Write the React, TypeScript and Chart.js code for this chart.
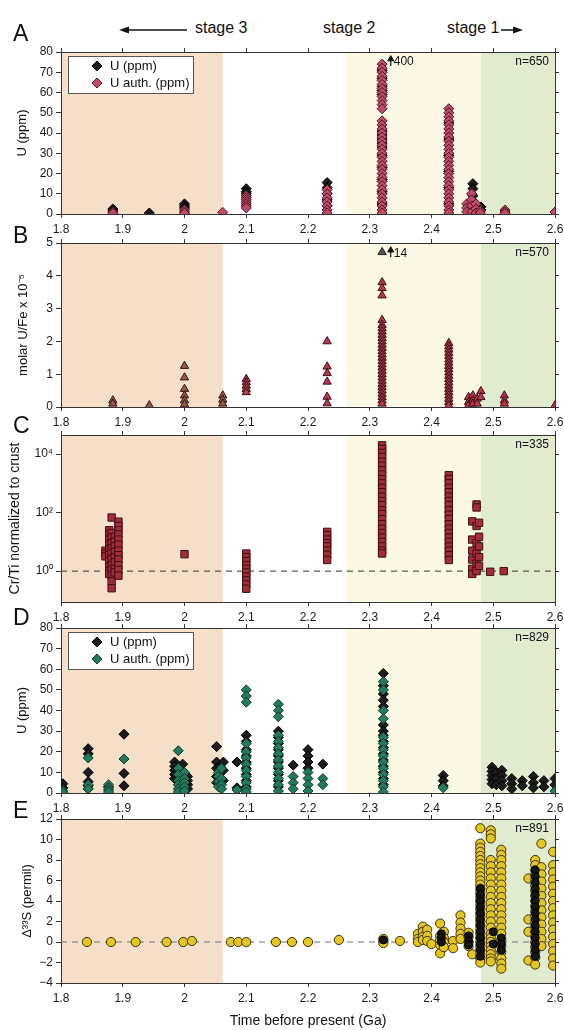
import React, { useEffect, useRef } from 'react';
import { Chart, registerables } from 'chart.js';

Chart.register(...registerables);

type Col = [number, number[]];
type Band = { from: number; to: number; color: string };
type Note = [number, number, string];

const FONT = "'Liberation Sans', Arial, Helvetica, sans-serif";
Chart.defaults.font.family = FONT;

// ---------------- shared x axis (Ga) ----------------
const X_MIN = 1.8;
const X_MAX = 2.6;
const X_STEP = 0.1;

// stage shading limits (Ga)
const STAGE3 = [1.8, 2.062];
const STAGE2 = [2.262, 2.48];
const STAGE1 = [2.48, 2.6];

// ---------------- Panel A : U (ppm) ----------------
const A_U_PPM: Col[] = [
  [1.884, [2.5, 1.5]],
  [1.943, [0.5]],
  [2.0, [5, 4, 3]],
  [2.1, [12.5, 11, 10]],
  [2.231, [15.5, 13, 10, 7, 4]],
  [2.32, [71, 67, 63, 61, 59, 41, 39, 37, 35, 33, 29, 23, 17, 11, 5]],
  [2.428, [45, 37, 29, 21, 13, 5]],
  [2.467, [15, 12.5, 9]],
  [2.48, [3.5, 2]],
];
const A_U_AUTH: Col[] = [
  [1.884, [1, 0.3]],
  [2.0, [2, 1, 0.3]],
  [2.062, [0.8]],
  [2.1, [9, 8, 7, 6, 5, 4, 3]],
  [2.231, [12, 10, 8, 6, 4, 2, 0.5]],
  [2.32, [74, 72, 70, 68, 66, 64, 62, 60, 58, 56, 54, 52, 46, 44, 42, 40, 38, 36, 34, 32, 30, 28, 26, 24, 22, 20, 18, 16, 14, 12, 10, 8, 6, 4, 2, 0.5]],
  [2.428, [52, 50, 48, 46, 44, 42, 40, 38, 36, 34, 32, 30, 28, 26, 24, 22, 20, 18, 16, 14, 12, 10, 8, 6, 4, 2, 0.5]],
  [2.457, [5, 3, 1]],
  [2.465, [10, 7, 4, 1]],
  [2.472, [5, 2.5, 0.5]],
  [2.479, [1.5, 0.5]],
  [2.519, [2, 1, 0.3]],
  [2.6, [1]],
];
const A_OFFSCALE: Note[] = [[2.334, 76.5, '400']];

// ---------------- Panel B : molar U/Fe ----------------
const B_U_FE: Col[] = [
  [1.884, [0.2, 0.1]],
  [1.943, [0.05]],
  [2.0, [1.25, 0.9, 0.55, 0.35, 0.2, 0.08]],
  [2.062, [0.35, 0.22, 0.1]],
  [2.1, [0.85, 0.75, 0.65, 0.55, 0.45]],
  [2.231, [2.0, 1.23, 1.03, 0.77, 0.31, 0.11]],
  [2.32, [3.8, 3.62, 3.4, 2.65, 2.5, 2.4, 2.3, 2.2, 2.1, 2.0, 1.9, 1.8, 1.7, 1.6, 1.5, 1.4, 1.3, 1.2, 1.1, 1.0, 0.9, 0.8, 0.7, 0.6, 0.5, 0.4, 0.3, 0.2, 0.1]],
  [2.428, [1.95, 1.85, 1.75, 1.65, 1.55, 1.45, 1.35, 1.25, 1.15, 1.05, 0.95, 0.85, 0.75, 0.65, 0.55, 0.45, 0.35, 0.25, 0.15, 0.05]],
  [2.46, [0.3, 0.15, 0.05]],
  [2.467, [0.35, 0.2, 0.1]],
  [2.474, [0.25, 0.1]],
  [2.48, [0.48, 0.3]],
  [2.518, [0.35, 0.2, 0.1]],
  [2.6, [0.05]],
];
const B_OFFSCALE_GRAY: Col[] = [[2.32, [4.72]]];
const B_OFFSCALE: Note[] = [[2.334, 4.78, '14']];

// ---------------- Panel C : Cr/Ti normalized to crust ----------------
const C_CR_TI: Col[] = [
  [1.872, [5, 4, 3.2]],
  [1.878, [25, 18, 12, 8, 5.5, 3.5, 2.2, 1.4, 1, 0.8]],
  [1.882, [68, 20, 14, 9, 6, 4, 2.6, 1.6, 1.1, 0.7, 0.45, 0.26]],
  [1.887, [15, 10, 7, 4.5, 3, 2, 1.2, 0.9]],
  [1.893, [49, 35, 25, 18, 12, 8, 5, 3.5, 2.5, 1.6, 1.1, 0.7]],
  [2.0, [3.8]],
  [2.1, [4, 3, 2.2, 1.6, 1.2, 0.9, 0.65, 0.48, 0.35, 0.25]],
  [2.231, [22, 17, 12, 9, 7, 5, 3.6, 2.4]],
  [2.32, [20000, 15000, 11000, 8000, 5500, 4000, 2800, 2000, 1400, 1000, 700, 500, 350, 250, 180, 120, 90, 60, 40, 28, 20, 14, 10, 7, 5, 4]],
  [2.428, [1900, 1400, 1000, 700, 500, 350, 250, 180, 120, 85, 60, 40, 28, 20, 14, 10, 7, 5, 3.5, 2.4]],
  [2.466, [50, 12, 5, 2.5, 1.2, 0.8]],
  [2.473, [190, 150, 35, 9, 4, 1.8, 1]],
  [2.477, [45, 15, 7, 3, 1.5]],
  [2.495, [0.95]],
  [2.517, [1.0]],
];
const C_REF = 1;
const C_TICKS = [1, 100, 10000];
const C_TICK_LABELS = ['10\u2070', '10\u00B2', '10\u2074'];

// ---------------- Panel D : U (ppm) ----------------
const D_U_PPM: Col[] = [
  [1.803, [4.5, 2.5]],
  [1.844, [21.5, 19, 10, 5.5, 3.5, 2]],
  [1.877, [3]],
  [1.902, [28.5, 9.5, 3.5]],
  [1.984, [15, 13, 11, 9, 7]],
  [1.991, [12, 10, 8, 6, 4]],
  [1.997, [14, 10, 7, 5]],
  [2.005, [8, 6, 4, 2]],
  [2.052, [22.5, 15, 12, 8, 5]],
  [2.058, [13, 10, 7, 4]],
  [2.063, [15, 11, 6]],
  [2.085, [15, 2.5]],
  [2.1, [28, 25, 21, 18, 15, 12, 9, 6, 3]],
  [2.152, [30, 27, 24, 21, 18, 15, 12, 9, 6, 3]],
  [2.176, [13.5]],
  [2.2, [21, 18, 15, 12]],
  [2.224, [14]],
  [2.322, [58, 52, 48, 45, 42, 33, 30, 28, 25, 22, 19, 16, 13, 10, 7, 4]],
  [2.419, [8.5, 6, 3.5]],
  [2.498, [12.5, 10.5, 8.5, 6.5, 4.5]],
  [2.505, [10, 7, 4]],
  [2.514, [11, 8.5, 6, 3.5]],
  [2.53, [7, 4.5, 2]],
  [2.547, [6, 3.5]],
  [2.565, [8, 5, 2.5]],
  [2.582, [6, 3]],
  [2.6, [7, 4]],
];
const D_U_AUTH: Col[] = [
  [1.803, [1, 0.3]],
  [1.844, [17, 4, 2]],
  [1.877, [4, 2.5, 1.5, 0.5]],
  [1.902, [16.5]],
  [1.99, [20.5, 12, 9, 6, 4, 2, 0.5]],
  [2.0, [10, 7, 5, 3, 1]],
  [2.055, [10, 8, 5.5, 3]],
  [2.06, [12, 7, 4, 2]],
  [2.085, [1.5]],
  [2.1, [50, 47, 44, 24, 20, 17, 14, 11, 8, 5, 2, 0.5]],
  [2.152, [43, 40, 37, 28, 25, 22, 19, 16, 13, 10, 7, 4, 1]],
  [2.176, [8, 5, 2]],
  [2.2, [10, 7, 4, 1]],
  [2.224, [7, 4]],
  [2.322, [54, 50, 40, 36, 27, 24, 21, 18, 15, 12, 9, 6, 3, 0.5]],
  [2.419, [2.5]],
  [2.6, [1]],
];

// ---------------- Panel E : Δ33S (permil) ----------------
const E_D33S: Col[] = [
  [1.842, [0]], [1.881, [0]], [1.921, [0]], [1.971, [0]], [1.998, [0]], [2.012, [0.1]],
  [2.075, [0]], [2.087, [0]], [2.1, [0]], [2.148, [0]], [2.174, [0]], [2.2, [0]], [2.25, [0.2]],
  [2.322, [0.3, 0.1, -0.1]], [2.349, [0.1]],
  [2.378, [0.8, 0.3, 0]], [2.386, [1.5, 1, 0.5, 0.2]], [2.393, [1.2, 0.6, 0.1]],
  [2.4, [-0.2]],
  [2.414, [1.8, 0.6, 0.2, -0.3, -1.1]], [2.42, [1, 0.4, 0, -0.5]],
  [2.435, [0.1, -0.6]],
  [2.447, [2.6, 1.9, 1.3, 0.8, 0.3]],
  [2.46, [0.9, 0.5, 0, -0.4]], [2.466, [-1.2]],
  [2.479, [11.1, 9.6, 9.2, 8.8, 8.4, 8.0, 7.6, 7.2, 6.8, 6.4, 6.0, 5.6, 5.2, 4.8, 4.4, 4.0, 3.6, 3.2, 2.8, 2.4, 2.0, 1.6, 1.2, 0.8, 0.4, 0, -0.4, -0.8, -1.2, -1.6, -2.0]],
  [2.496, [10.9, 10.5, 10.1, 8.0, 7.4, 6.8, 6.2, 5.6, 5.0, 4.4, 3.8, 3.2, 2.6, 2.0, 1.4, 0.8, 0.4, 0, -0.4, -0.8, -1.2, -1.6, -1.9]],
  [2.513, [9.0, 8.5, 8.0, 7.4, 6.8, 6.2, 5.6, 5.0, 4.4, 3.8, 3.2, 2.6, 2.0, 1.4, 0.8, 0.2, -0.4, -1.0, -1.6, -2.1, -2.6]],
  [2.557, [6.2, 2.2, 1.0, -1.8]],
  [2.568, [8.0, 7.5, 7.0, 6.5, 6.0, 5.5, 5.0, 4.5, 4.0, 3.5, 3.0, 2.5, 2.0, 1.5, 1.0, 0.5, 0, -0.5, -1.0, -1.5, -2.2]],
  [2.578, [9.6, 7.3, 6.6, 5.9, 5.2, 4.5, 3.8, 3.1, 2.4, 1.7, 1.0, 0.3, -0.4]],
  [2.597, [8.8, 7.5, 6.8, 6.1, 5.4, 4.7, 4.0, 3.3, 2.6, 1.9, 1.2, 0.5, -0.2, -0.9, -1.6, -2.3]],
];
const E_D33S_DARK: Col[] = [
  [2.322, [0.2]],
  [2.416, [0.8, 0.4, 0]],
  [2.46, [0.6, 0.1, -0.3]],
  [2.479, [5.2, 4.6, 4.0, 3.4, 2.8, 2.2, 1.6, 1.0, 0.4, -0.2, -0.8, -1.4]],
  [2.5, [1, -0.2]],
  [2.513, [0.4, -0.2, -0.8]],
  [2.568, [7.0, 6.4, 5.8, 5.2, 4.6, 4.0, 3.4, 2.8, 2.2, 1.6, 1.0, 0.4, -0.2, -0.8, -1.4]],
];
const E_REF = 0;

// ---------------- helpers ----------------
const pts = (cols: Col[]) => cols.flatMap(([x, ys]) => ys.map((y) => ({ x, y })));
const AXIS = '#333';
const TICK = '#1a1a1a';

const BANDS: Band[] = [
  { from: STAGE3[0], to: STAGE3[1], color: '#f5dfc8' },
  { from: STAGE2[0], to: STAGE2[1], color: '#fbf9e5' },
  { from: STAGE1[0], to: STAGE1[1], color: '#e0ebcf' },
];
const BANDS_E: Band[] = [
  { from: STAGE3[0], to: STAGE3[1], color: '#f5dfc8' },
  { from: STAGE1[0], to: STAGE1[1], color: '#e0ebcf' },
];

function xAxis(position: string, labels: boolean, h: number, title?: string) {
  return {
    type: 'linear',
    position,
    min: X_MIN,
    max: X_MAX,
    ticks: {
      display: labels,
      stepSize: X_STEP,
      autoSkip: false,
      maxRotation: 0,
      padding: 4,
      color: TICK,
      font: { family: FONT, size: 12 },
      callback: (v: number) => String(Math.round(v * 10) / 10),
    },
    grid: { drawOnChartArea: false, drawTicks: true, tickLength: 4, color: AXIS },
    border: { display: true, color: AXIS, width: 1 },
    title: title
      ? { display: true, text: title, color: '#111', font: { family: FONT, size: 14 }, padding: { top: 0, bottom: 0 } }
      : { display: false },
    afterFit: (s: any) => {
      s.height = h;
      s.paddingLeft = 0;
      s.paddingRight = 0;
    },
  };
}

function yAxis(o: any, side: 'left' | 'right') {
  const left = side === 'left';
  const lh = (o.titleSize || 13) * 1.2;
  return {
    type: o.type || 'linear',
    position: side,
    min: o.min,
    max: o.max,
    ticks: {
      display: left,
      stepSize: o.step,
      autoSkip: false,
      padding: 3,
      color: TICK,
      font: { family: FONT, size: 12 },
      callback: o.labels
        ? (v: number) => {
            const i = o.fixed.indexOf(v);
            return i >= 0 ? o.labels[i] : '';
          }
        : (v: number) => (v < 0 ? '\u2212' + Math.abs(v) : String(v)),
    },
    afterBuildTicks: o.fixed
      ? (s: any) => {
          s.ticks = o.fixed.map((value: number) => ({ value }));
        }
      : undefined,
    grid: { drawOnChartArea: false, drawTicks: true, tickLength: left ? 5 : 4, color: AXIS },
    border: { display: true, color: AXIS, width: 1 },
    title: left
      ? {
          display: true,
          text: o.title,
          color: '#111',
          font: { family: FONT, size: o.titleSize || 13 },
          padding: { top: o.titleCenter - lh / 2, bottom: 0 },
        }
      : { display: false },
    afterFit: (s: any) => {
      s.width = left ? 61 : 9;
      s.paddingTop = 0;
      s.paddingBottom = 0;
    },
  };
}

const bandsPlugin = (bands: Band[]) => ({
  id: 'bands',
  beforeDraw(chart: any) {
    const { ctx, chartArea: a, scales } = chart;
    const x = scales.x;
    ctx.save();
    for (const b of bands) {
      const x0 = x.getPixelForValue(b.from);
      const x1 = x.getPixelForValue(b.to);
      ctx.fillStyle = b.color;
      ctx.fillRect(x0, a.top, x1 - x0, a.bottom - a.top);
    }
    ctx.restore();
  },
});

const decorPlugin = (p: any) => ({
  id: 'decor',
  afterDatasetsDraw(chart: any) {
    const { ctx, chartArea: a, scales } = chart;
    const x = scales.x;
    const y = scales.y;
    ctx.save();
    ctx.font = `12px ${FONT}`;
    ctx.fillStyle = '#111';
    ctx.textBaseline = 'middle';
    ctx.textAlign = 'right';
    ctx.fillText(p.n, a.right - 6, a.top + 10);
    if (p.notes) {
      for (const [nx, ny, t] of p.notes as Note[]) {
        const px = x.getPixelForValue(nx);
        const py = y.getPixelForValue(ny);
        ctx.strokeStyle = '#111';
        ctx.lineWidth = 1.2;
        ctx.beginPath();
        ctx.moveTo(px, py);
        ctx.lineTo(px, py + 7);
        ctx.stroke();
        ctx.textAlign = 'left';
        ctx.fillStyle = '#111';
        ctx.fillText(t, px + 3, py + 3);
      }
    }
    if (p.legend) {
      const bx = a.left + 7;
      const by = a.top + 4;
      const bw = 125;
      const bh = 37;
      ctx.fillStyle = '#fff';
      ctx.fillRect(bx, by, bw, bh);
      ctx.strokeStyle = '#555';
      ctx.lineWidth = 1;
      ctx.strokeRect(bx + 0.5, by + 0.5, bw, bh);
      p.legend.forEach((it: any, i: number) => {
        const cx = bx + 29;
        const cy = by + 10 + i * 17;
        const r = 5;
        ctx.beginPath();
        ctx.moveTo(cx, cy - r);
        ctx.lineTo(cx + r, cy);
        ctx.lineTo(cx, cy + r);
        ctx.lineTo(cx - r, cy);
        ctx.closePath();
        ctx.fillStyle = it.fill;
        ctx.strokeStyle = it.border;
        ctx.fill();
        ctx.stroke();
        ctx.fillStyle = '#111';
        ctx.font = `13px ${FONT}`;
        ctx.textAlign = 'left';
        ctx.fillText(it.label, bx + 42, cy + 0.5);
      });
    }
    ctx.restore();
  },
});

function makeConfig(p: any) {
  return {
    type: 'scatter',
    data: { datasets: p.datasets },
    options: {
      responsive: false,
      animation: false,
      devicePixelRatio: 1,
      events: [],
      layout: { padding: { left: 0, right: 0, top: 8, bottom: p.padBottom } },
      plugins: { legend: { display: false }, tooltip: { enabled: false } },
      scales: {
        x: xAxis('bottom', true, p.bottomH, p.xTitle),
        x2: xAxis('top', false, 6),
        y: yAxis(p.y, 'left'),
        yR: yAxis(p.y, 'right'),
      },
    },
    plugins: [bandsPlugin(p.bands), decorPlugin(p)],
  };
}

const marker = (data: any[], style: string, r: number, fill: any, border: string, order: number) => ({
  data,
  pointStyle: style,
  pointRadius: r,
  backgroundColor: fill,
  borderColor: border,
  borderWidth: 1,
  order,
});

const refLine = (yv: number, color: string) => ({
  data: [
    { x: X_MIN, y: yv },
    { x: X_MAX, y: yv },
  ],
  showLine: true,
  pointRadius: 0,
  borderColor: color,
  borderWidth: 1,
  borderDash: [6, 5],
  order: 9,
});

const notePts = (notes: Note[]) => notes.map(([x, y]) => ({ x, y }));

const BLACK = '#1c1c1c';
const RED_A = '#c24a66';
const GREEN = '#237a5c';

const panelA = () =>
  makeConfig({
    bottomH: 24,
    padBottom: 2,
    bands: BANDS,
    n: 'n=650',
    notes: A_OFFSCALE,
    legend: [
      { label: 'U (ppm)', fill: BLACK, border: '#000' },
      { label: 'U auth. (ppm)', fill: RED_A, border: '#4a1525' },
    ],
    y: { min: 0, max: 80, step: 10, title: 'U (ppm)', titleCenter: 22 },
    datasets: [
      marker(pts(A_U_AUTH), 'rectRot', 5, RED_A, '#4a1525', 1),
      marker(pts(A_U_PPM), 'rectRot', 5, BLACK, '#000', 2),
      marker(notePts(A_OFFSCALE), 'triangle', 3.5, '#111', '#111', 0),
    ],
  });

const panelB = () =>
  makeConfig({
    bottomH: 24,
    padBottom: 2,
    bands: BANDS,
    n: 'n=570',
    notes: B_OFFSCALE,
    y: { min: 0, max: 5, step: 1, title: 'molar U/Fe x 10\u207B\u2075', titleCenter: 23 },
    datasets: [
      marker(
        pts(B_U_FE),
        'triangle',
        4.8,
        (c: any) => (c.raw && c.raw.x < 2.07 ? '#8e5a4a' : '#b5394c'),
        '#3c0f18',
        1
      ),
      marker(pts(B_OFFSCALE_GRAY), 'triangle', 4.8, '#555', '#222', 0),
      marker(notePts(B_OFFSCALE), 'triangle', 3.5, '#111', '#111', 0),
    ],
  });

const panelC = () =>
  makeConfig({
    bottomH: 24,
    padBottom: 2,
    bands: BANDS,
    n: 'n=335',
    y: {
      type: 'logarithmic',
      min: 0.088,
      max: 45000,
      fixed: C_TICKS,
      labels: C_TICK_LABELS,
      title: 'Cr/Ti normalized to crust',
      titleSize: 14,
      titleCenter: 15,
    },
    datasets: [marker(pts(C_CR_TI), 'rect', 5.2, '#a52a3a', '#3a1015', 1), refLine(C_REF, '#333')],
  });

const panelD = () =>
  makeConfig({
    bottomH: 24,
    padBottom: 2,
    bands: BANDS,
    n: 'n=829',
    legend: [
      { label: 'U (ppm)', fill: BLACK, border: '#000' },
      { label: 'U auth. (ppm)', fill: GREEN, border: '#0d3a2a' },
    ],
    y: { min: 0, max: 80, step: 10, title: 'U (ppm)', titleCenter: 22 },
    datasets: [
      marker(pts(D_U_AUTH), 'rectRot', 5, GREEN, '#0d3a2a', 1),
      marker(pts(D_U_PPM), 'rectRot', 5, BLACK, '#000', 2),
    ],
  });

const panelE = () =>
  makeConfig({
    bottomH: 47,
    padBottom: 0,
    bands: BANDS_E,
    n: 'n=891',
    xTitle: 'Time before present (Ga)',
    y: { min: -4, max: 12, step: 2, title: '\u0394\u00B3\u00B3S (permil)', titleCenter: 27 },
    datasets: [
      marker(pts(E_D33S_DARK), 'circle', 4, '#151515', '#000', 0),
      marker(pts(E_D33S), 'circle', 4.6, '#e3c61f', '#40320e', 1),
      refLine(E_REF, '#6a7088'),
    ],
  });

function Panel({ top, height, build }: { top: number; height: number; build: () => any }) {
  const ref = useRef<HTMLCanvasElement>(null);
  useEffect(() => {
    const chart = new Chart(ref.current as HTMLCanvasElement, build() as any);
    return () => chart.destroy();
  }, []);
  return (
    <canvas
      ref={ref}
      width={564}
      height={height}
      style={{ position: 'absolute', left: 0, top, width: 564, height, display: 'block' }}
    />
  );
}

const letter = (t: string, top: number) => (
  <div
    key={t}
    style={{ position: 'absolute', left: 13, top, fontSize: 23, lineHeight: '23px', color: '#111' }}
  >
    {t}
  </div>
);

const stageText = (t: string, left: number) => (
  <div key={t} style={{ position: 'absolute', left, top: 20, fontSize: 16, lineHeight: '16px', color: '#111', whiteSpace: 'nowrap' }}>
    {t}
  </div>
);

export default function App() {
  return (
    <div
      style={{
        position: 'absolute',
        left: 0,
        top: 0,
        width: 564,
        height: 1030,
        background: '#fff',
        fontFamily: FONT,
        overflow: 'hidden',
      }}
    >
      <Panel top={38} height={202} build={panelA} />
      <Panel top={229} height={204} build={panelB} />
      <Panel top={421} height={207} build={panelC} />
      <Panel top={614} height={205} build={panelD} />
      <Panel top={805} height={225} build={panelE} />
      {letter('A', 22)}
      {letter('B', 224)}
      {letter('C', 414)}
      {letter('D', 606)}
      {letter('E', 799)}
      {stageText('stage 3', 195)}
      {stageText('stage 2', 323)}
      {stageText('stage 1', 447)}
      <svg style={{ position: 'absolute', left: 119, top: 24 }} width={70} height={12}>
        <line x1={8} y1={6} x2={68} y2={6} stroke="#111" strokeWidth={1.5} />
        <polygon points="0,6 10,2.5 10,9.5" fill="#111" />
      </svg>
      <svg style={{ position: 'absolute', left: 501, top: 24 }} width={22} height={12}>
        <line x1={0} y1={6} x2={14} y2={6} stroke="#111" strokeWidth={1.5} />
        <polygon points="22,6 12,2.5 12,9.5" fill="#111" />
      </svg>
    </div>
  );
}
